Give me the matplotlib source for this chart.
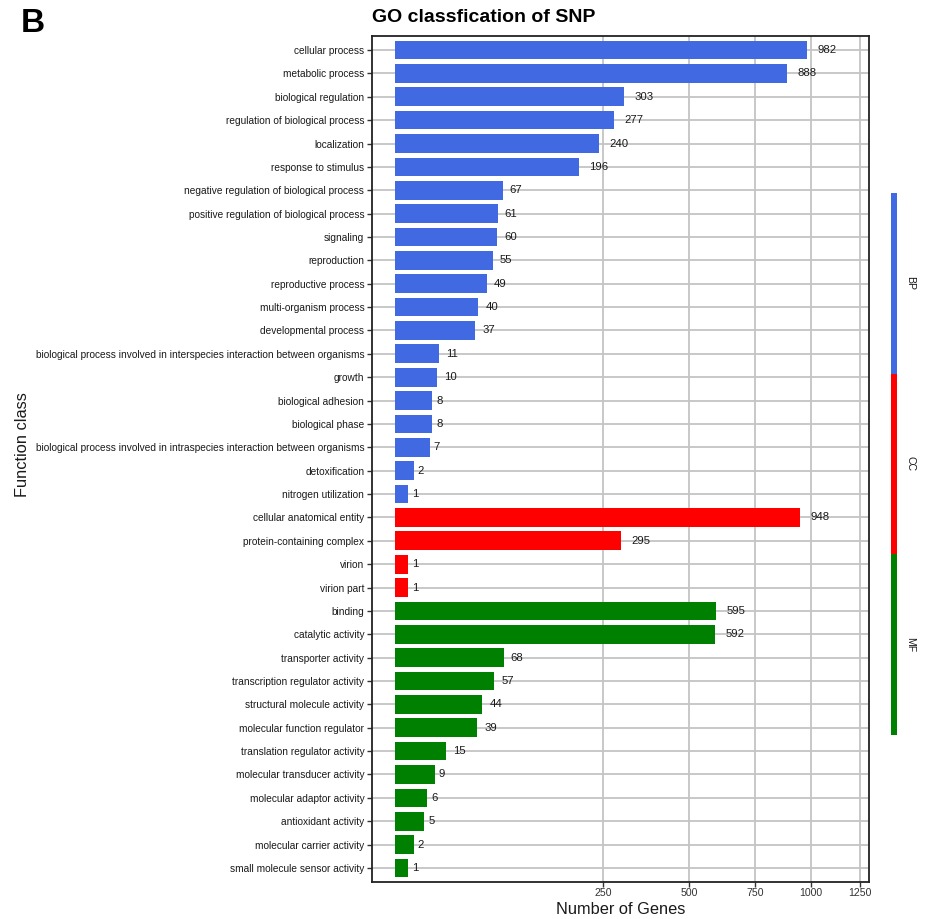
import numpy as np
import matplotlib
matplotlib.use("Agg")
import matplotlib.pyplot as plt
from matplotlib.patches import Rectangle

plt.rcParams['font.family'] = ['Liberation Sans', 'DejaVu Sans']

# GO terms and gene counts per ontology
bp_terms = [
    "cellular process", "metabolic process", "biological regulation",
    "regulation of biological process", "localization", "response to stimulus",
    "negative regulation of biological process", "positive regulation of biological process",
    "signaling", "reproduction", "reproductive process", "multi-organism process",
    "developmental process",
    "biological process involved in interspecies interaction between organisms",
    "growth", "biological adhesion", "biological phase",
    "biological process involved in intraspecies interaction between organisms",
    "detoxification", "nitrogen utilization",
]
bp_counts = [982, 888, 303, 277, 240, 196, 67, 61, 60, 55, 49, 40, 37, 11, 10, 8, 8, 7, 2, 1]

cc_terms = ["cellular anatomical entity", "protein-containing complex", "virion", "virion part"]
cc_counts = [948, 295, 1, 1]

mf_terms = [
    "binding", "catalytic activity", "transporter activity",
    "transcription regulator activity", "structural molecule activity",
    "molecular function regulator", "translation regulator activity",
    "molecular transducer activity", "molecular adaptor activity",
    "antioxidant activity", "molecular carrier activity", "small molecule sensor activity",
]
mf_counts = [595, 592, 68, 57, 44, 39, 15, 9, 6, 5, 2, 1]

groups = ["BP", "CC", "MF"]
group_colors = {"BP": "#4169E1", "CC": "#FF0000", "MF": "#008000"}
x_ticks = [250, 500, 750, 1000, 1250]

terms = bp_terms + cc_terms + mf_terms
counts = bp_counts + cc_counts + mf_counts
labels_grp = ["BP"] * len(bp_terms) + ["CC"] * len(cc_terms) + ["MF"] * len(mf_terms)
colors = [group_colors[g] for g in labels_grp]

W, H = 933, 919
fig = plt.figure(figsize=(W / 100, H / 100), dpi=100)

# panel placement in pixels
left, right, top, bottom = 372, 869, 36, 882
ax = fig.add_axes([left / W, (H - bottom) / H, (right - left) / W, (bottom - top) / H])


def fwd(x):
    x = np.asarray(x, dtype=float)
    return np.sign(x) * np.sqrt(np.abs(x))


def inv(y):
    y = np.asarray(y, dtype=float)
    return np.sign(y) * y ** 2


ax.set_xscale('function', functions=(fwd, inv))

ypos = np.arange(len(terms))
ax.barh(ypos, counts, height=0.8, color=colors, zorder=2, edgecolor='none')

ax.set_xlim(-3.06, 1297)
ax.set_ylim(len(terms) - 1 + 0.6, -0.6)

ax.set_yticks(ypos)
ax.set_yticklabels(terms, fontsize=7.25, color='#1a1a1a')
ax.set_xticks(x_ticks)
ax.set_xticklabels([str(t) for t in x_ticks], fontsize=7.6, color='#333333')
ax.minorticks_off()
ax.tick_params(axis='both', length=3.5, width=1.0, color='#333333', pad=2)
ax.tick_params(axis='x', pad=1)

ax.grid(True, color='#c4c4c4', linewidth=1.3, zorder=0)
ax.set_axisbelow(True)
for s in ax.spines.values():
    s.set_linewidth(1.3)
    s.set_color('#222222')

# value labels at bar ends
fs_val = 8.2
for y, v in zip(ypos, counts):
    s = str(v)
    off = 0.5 * len(s) * 0.556 * fs_val + 0.5
    ax.annotate(s, (v, y), xytext=(off, 0), textcoords='offset points',
                ha='left', va='center', fontsize=fs_val, color='#1a1a1a', zorder=3)

ax.set_xlabel("Number of Genes", fontsize=11.8, labelpad=3, color='#1a1a1a')
fig.text(23 / W, 1 - 445 / H, "Function class", rotation=90, fontsize=11.8,
         ha='center', va='center', color='#1a1a1a')

fig.text(372 / W, 1 - 18 / H, "GO classfication of SNP", fontsize=14,
         fontweight='bold', ha='left', va='center')
fig.text(21 / W, 1 - 23 / H, "B", fontsize=24, fontweight='bold', ha='left', va='center')

# ontology strip on the right
strip_x, strip_w = 891, 6
strip_top, strip_bot = 193, 735
n_grp = len(groups)
seg = (strip_bot - strip_top) / n_grp
for i, g in enumerate(groups):
    y0 = strip_top + i * seg
    fig.patches.append(Rectangle((strip_x / W, 1 - (y0 + seg) / H), strip_w / W, seg / H,
                                 transform=fig.transFigure, facecolor=group_colors[g],
                                 edgecolor='none'))
    fig.text(910 / W, 1 - (y0 + seg / 2) / H, g, rotation=-90, fontsize=7.6,
             ha='center', va='center', color='#1a1a1a')

fig.savefig("out.png", dpi=100)
